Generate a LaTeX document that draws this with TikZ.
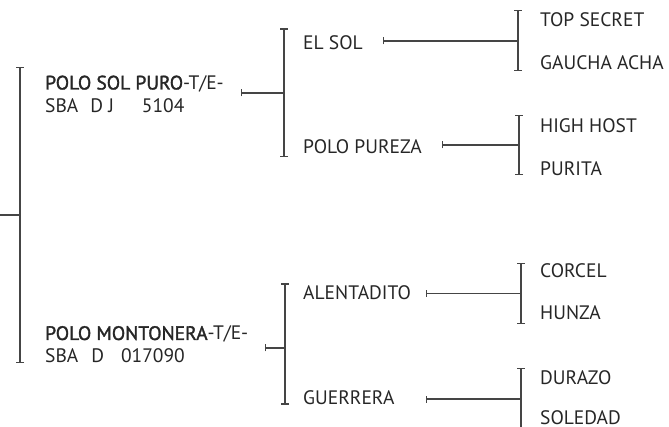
\documentclass[tikz,border=0pt]{standalone}
\usepackage{fontspec}
\setmainfont{PT Sans}
\newfontfamily\semib[FakeBold=1.6]{PT Sans}
\usetikzlibrary{arrows.meta}
\definecolor{ink}{HTML}{262626}
\definecolor{linec}{HTML}{454545}
\begin{document}
\begin{tikzpicture}[x=1pt,y=-1pt,
  lbl/.style={anchor=base west, inner sep=0pt, font=\fontsize{19.5}{23}\selectfont, text=ink},
  brk/.style={draw=linec, line width=1.2pt, {Bar[width=8pt]}-{Bar[width=8pt]}},
  brkopen/.style={draw=linec, line width=1.2pt, {Bar[width=8pt]}-},
  conn/.style={draw=linec, line width=1.2pt, {Bar[width=7pt]}-},
  stub/.style={draw=linec, line width=1.2pt}]
\useasboundingbox (0,0) rectangle (669,427);
\clip (0,0) rectangle (669,427);

% ---- level 1 labels
\node[lbl] (a) at (45,89.5) {\begin{tabular}[t]{@{}l@{}}{\semib POLO SOL PURO}-T/E-\\SBA\hspace{12pt}D J\hspace{28pt}5104\end{tabular}};
\node[lbl] (b) at (45,340) {\begin{tabular}[t]{@{}l@{}}{\semib POLO MONTONERA}-T/E-\\SBA\hspace{13pt}D\hspace{17pt}017090\end{tabular}};

% ---- level 2 labels
\node[lbl] (elsol) at (303,49.3) {EL SOL};
\node[lbl] (pureza) at (303,154) {POLO PUREZA};
\node[lbl] (alent) at (303,299.3) {ALENTADITO};
\node[lbl] (guer) at (303,404.3) {GUERRERA};

% ---- level 3 labels
\node[lbl] (top) at (540,26.3) {TOP SECRET};
\node[lbl] (gau) at (540,69.3) {GAUCHA ACHA};
\node[lbl] (high) at (540,133) {HIGH HOST};
\node[lbl] (pur) at (540,176) {PURITA};
\node[lbl] (cor) at (540,277.3) {CORCEL};
\node[lbl] (hun) at (540,319.3) {HUNZA};
\node[lbl] (dur) at (540,384.3) {DURAZO};
\node[lbl] (sol) at (540,424) {SOLEDAD};

% ---- coordinates
\coordinate (r0) at (0,215);
\coordinate (rt) at (20,67);
\coordinate (rm) at (20,215);
\coordinate (rb) at (20,363);

\coordinate (a-o) at (241,93);
\coordinate (a-t) at (284,28.5);
\coordinate (a-m) at (284,93);
\coordinate (a-b) at (284,157);

\coordinate (b-o) at (265,348);
\coordinate (b-t) at (285,283.5);
\coordinate (b-m) at (285,348);
\coordinate (b-b) at (285,404.5);

\coordinate (e-o) at (383,41);
\coordinate (e-t) at (518,10);
\coordinate (e-m) at (518,41);
\coordinate (e-b) at (518,71.5);

\coordinate (p-o) at (442,145);
\coordinate (p-t) at (519,115);
\coordinate (p-m) at (519,145);
\coordinate (p-b) at (519,175);

\coordinate (al-o) at (426,293.5);
\coordinate (al-t) at (521,263);
\coordinate (al-m) at (521,293.5);
\coordinate (al-b) at (521,324);

\coordinate (g-o) at (426,399);
\coordinate (g-t) at (521,367.5);
\coordinate (g-m) at (521,399);
\coordinate (g-b) at (521,445);

% ---- brackets
\draw[brk] (rt) -- (rb);
\draw[brk] (a-t) -- (a-b);
\draw[brk] (b-t) -- (b-b);
\draw[brk] (e-t) -- (e-b);
\draw[brk] (p-t) -- (p-b);
\draw[brk] (al-t) -- (al-b);
\draw[brkopen] (g-t) -- (g-b);

% ---- connectors
\draw[stub] (r0) -- (rm);
\draw[conn] (a-o) -- (a-m);
\draw[conn] (b-o) -- (b-m);
\draw[conn] (e-o) -- (e-m);
\draw[conn] (p-o) -- (p-m);
\draw[conn] (al-o) -- (al-m);
\draw[conn] (g-o) -- (g-m);
\end{tikzpicture}
\end{document}
